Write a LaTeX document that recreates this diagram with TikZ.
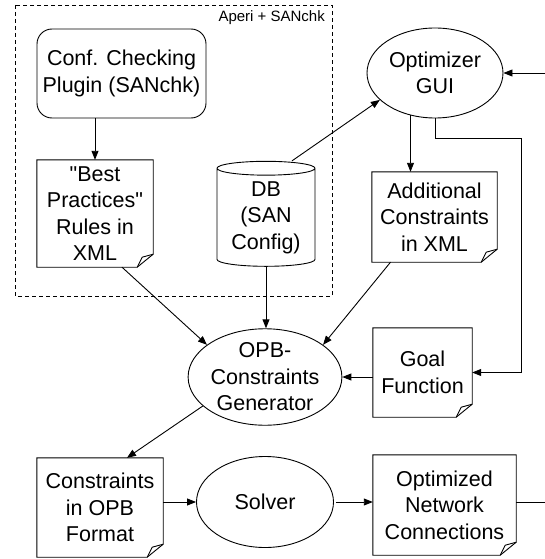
\documentclass[tikz,border=0pt]{standalone}
\usepackage{fontspec}
\newfontfamily\arialfont{Liberation Sans}
\usetikzlibrary{shapes.geometric}
\usetikzlibrary{arrows.meta}
\usetikzlibrary{calc}

\tikzset{
  every node/.style={font=\arialfont\fontsize{21.5}{26.5}\selectfont, align=center, inner sep=0pt},
  oval/.style={ellipse, draw, line width=.9pt},
  conn/.style={line width=.9pt, -{Triangle[length=9pt,width=7pt]}},
}
\newcommand{\docfold}[1]{%
  \draw[line width=.9pt] (#1.north west) -- (#1.north east) -- ($(#1.south east)+(0,-13)$) -- ($(#1.south east)+(-16,0)$) -- (#1.south west) -- cycle;
  \draw[line width=.9pt] ($(#1.south east)+(0,-13)$) -- ($(#1.south east)+(-11,-10)$) -- ($(#1.south east)+(-16,0)$);
}

\begin{document}
\begin{tikzpicture}[x=1pt,y=-1pt]
\useasboundingbox (0,0) rectangle (545,559);
\draw[dash pattern=on 4pt off 3pt, line width=.9pt] (15,5) rectangle (332,296);
\node[anchor=north east, font=\arialfont\fontsize{15}{18}\selectfont] (frame) at (325,10) {Aperi + SANchk};
\node[draw, rounded corners=15pt, minimum width=169pt, minimum height=89pt, line width=.9pt] (plugin) at (121.5,73.5) {Conf. Checking\\Plugin (SANchk)};
\node[minimum width=116pt, minimum height=107pt] (rules) at (95,213.5) {"Best\\Practices"\\Rules in\\XML};
\node[cylinder, draw, shape border rotate=90, aspect=0.2, minimum width=98pt, minimum height=105pt, line width=.9pt] (db) at (266,217.5) {DB\\(SAN\\Config)};
\node[oval, minimum width=136pt, minimum height=90pt] (gui) at (435,73) {Optimizer\\GUI};
\node[minimum width=125pt, minimum height=90pt] (addcons) at (434.5,217) {Additional\\Constraints\\in XML};
\node[oval, minimum width=134pt, minimum height=90pt] (gen) at (265,377) {OPB-\\Constraints\\Generator};
\node[minimum width=99pt, minimum height=89pt] (goal) at (422.5,372.5) {Goal\\Function};
\node[minimum width=126pt, minimum height=99pt] (opb) at (100,507.5) {Constraints\\in OPB\\Format};
\node[oval, minimum width=137pt, minimum height=91pt] (solver) at (265,502) {Solver};
\node[minimum width=143pt, minimum height=100pt] (result) at (444.5,505) {Optimized\\Network\\Connections};
\docfold{rules}
\docfold{addcons}
\docfold{goal}
\docfold{opb}
\docfold{result}
\coordinate (loopa) at (521,138);
\coordinate (loopb) at (545,502);
\draw[conn] (plugin.south -| rules.north) -- (rules.north);
\draw[conn] ($(db.north)+(26,0)$) -- (gui.206);
\draw[conn] (gui.240) -- (gui.240 |- addcons.north);
\draw[conn] ($(rules.south)+(27,0)$) -- (gen.151);
\draw[conn] (db.south) -- (db.south |- gen.north);
\draw[conn] ($(addcons.south)+(-44,0)$) -- (gen.29);
\draw[conn] (goal.west |- gen.east) -- (gen.east);
\draw[conn] (gui.south) |- (loopa) |- (goal.east);
\draw[conn] (gen.205) -- ($(opb.north)+(27,0)$);
\draw[conn] (opb.east |- solver.west) -- (solver.west);
\draw[conn, shorten <=2pt] (solver.east) -- (result.west |- solver.east);
\draw[conn] (result.east |- loopb) -- (loopb) |- (gui.east);
\end{tikzpicture}
\end{document}
